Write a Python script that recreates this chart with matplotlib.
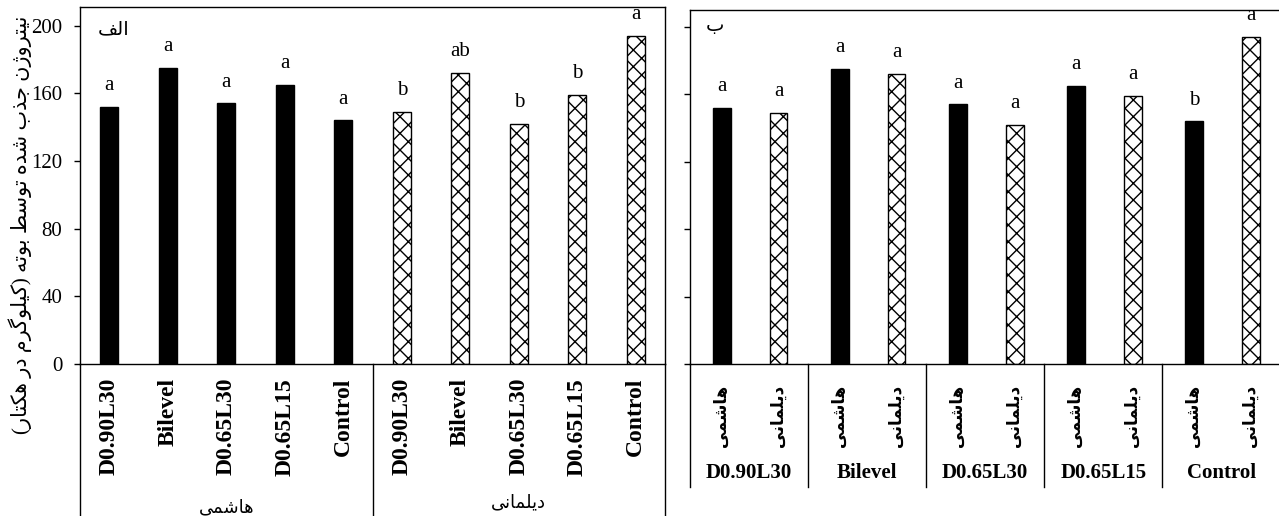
import numpy as np
import matplotlib
matplotlib.use("Agg")
import matplotlib.pyplot as plt

# treatments and cultivars
treatments = ["D0.90L30", "Bilevel", "D0.65L30", "D0.65L15", "Control"]
cultivars = ["هاشمی", "دیلمانی"]

# N uptake (kg/ha)
hashemi = [152, 175, 154, 165, 144]
dilmani = [149, 172, 142, 159, 194]

# mean comparison letters
left_hashemi_letters = ["a", "a", "a", "a", "a"]
left_dilmani_letters = ["b", "ab", "b", "b", "a"]
right_hashemi_letters = ["a", "a", "a", "a", "b"]
right_dilmani_letters = ["a", "a", "a", "a", "a"]

y_ticks = [0, 40, 80, 120, 160, 200]
y_label = "نیتروژن جذب شده توسط بوته (کیلوگرم در هکتار)"
panel_tags = ["الف", "ب"]

# ---- tiny persian shaper (matplotlib has no arabic shaping / bidi) ----
# letter: (isolated, final, initial, medial); None = does not join to the left
FORMS = {
    "ا": ("\uFE8D", "\uFE8E", None, None),
    "ب": ("\uFE8F", "\uFE90", "\uFE91", "\uFE92"),
    "ت": ("\uFE95", "\uFE96", "\uFE97", "\uFE98"),
    "ج": ("\uFE9D", "\uFE9E", "\uFE9F", "\uFEA0"),
    "د": ("\uFEA9", "\uFEAA", None, None),
    "ذ": ("\uFEAB", "\uFEAC", None, None),
    "ر": ("\uFEAD", "\uFEAE", None, None),
    "ژ": ("\uFB8A", "\uFB8B", None, None),
    "س": ("\uFEB1", "\uFEB2", "\uFEB3", "\uFEB4"),
    "ش": ("\uFEB5", "\uFEB6", "\uFEB7", "\uFEB8"),
    "ط": ("\uFEC1", "\uFEC2", "\uFEC3", "\uFEC4"),
    "ف": ("\uFED1", "\uFED2", "\uFED3", "\uFED4"),
    "ک": ("\uFB8E", "\uFB8F", "\uFB90", "\uFB91"),
    "گ": ("\uFB92", "\uFB93", "\uFB94", "\uFB95"),
    "ل": ("\uFEDD", "\uFEDE", "\uFEDF", "\uFEE0"),
    "م": ("\uFEE1", "\uFEE2", "\uFEE3", "\uFEE4"),
    "ن": ("\uFEE5", "\uFEE6", "\uFEE7", "\uFEE8"),
    "ه": ("\uFEE9", "\uFEEA", "\uFEEB", "\uFEEC"),
    "و": ("\uFEED", "\uFEEE", None, None),
    "ی": ("\uFBFC", "\uFBFD", "\uFBFE", "\uFBFF"),
}


def fa(text):
    out = []
    for i, ch in enumerate(text):
        if ch not in FORMS:
            out.append(ch)
            continue
        prev = text[i - 1] if i > 0 else ""
        nxt = text[i + 1] if i + 1 < len(text) else ""
        jp = prev in FORMS and FORMS[prev][2] is not None
        jn = FORMS[ch][2] is not None and nxt in FORMS
        iso, fin, ini, med = FORMS[ch]
        if jp and jn:
            out.append(med)
        elif jp:
            out.append(fin)
        elif jn:
            out.append(ini)
        else:
            out.append(iso)
    return "".join(out)[::-1].translate(str.maketrans("()", ")("))


plt.rcParams["font.family"] = ["Liberation Serif", "DejaVu Sans"]
plt.rcParams["hatch.linewidth"] = 1.0

W, H = 1279, 516
fig = plt.figure(figsize=(W / 100, H / 100), dpi=100)


def px_axes(l, t, r, b):
    return fig.add_axes([l / W, 1 - b / H, (r - l) / W, (b - t) / H])


ax1 = px_axes(80, 7, 665, 364)
ax2 = px_axes(690, 10, 1285, 364)

# ---------------- left panel ----------------
bw = 0.31
xh = np.arange(5)
xd = np.arange(5, 10)
ax1.bar(xh, hashemi, width=bw, color="black", edgecolor="black", lw=1)
ax1.bar(xd, dilmani, width=bw, color="white", edgecolor="black", hatch="xx", lw=1)
for x, v, s in zip(xh, hashemi, left_hashemi_letters):
    ax1.annotate(s, (x, v), xytext=(0, 12), textcoords="offset points",
                 ha="center", va="baseline", fontsize=15)
for x, v, s in zip(xd, dilmani, left_dilmani_letters):
    ax1.annotate(s, (x, v), xytext=(0, 12), textcoords="offset points",
                 ha="center", va="baseline", fontsize=15)

ax1.set_xlim(-0.5, 9.5)
ax1.set_ylim(0, 211)
ax1.set_yticks(y_ticks)
ax1.set_xticks(np.arange(10))
ax1.set_xticklabels(treatments * 2, rotation=90, fontweight="bold", fontsize=17)
ax1.tick_params(axis="x", length=0, pad=10)
ax1.tick_params(axis="y", direction="out", length=4.3, width=1, pad=8.5, labelsize=15)
for sp in ax1.spines.values():
    sp.set_linewidth(1)

tr1 = ax1.get_xaxis_transform()
for x in [-0.5, 4.5, 9.5]:
    ax1.plot([x, x], [0, -0.6], transform=tr1, clip_on=False, color="black", lw=1)
ax1.text(2, -0.417, fa(cultivars[0]), transform=tr1, ha="center", va="baseline", fontsize=13)
ax1.text(7, -0.403, fa(cultivars[1]), transform=tr1, ha="center", va="baseline", fontsize=13)
ax1.text(0.03, 0.936, fa(panel_tags[0]), transform=ax1.transAxes, ha="left", va="center", fontsize=14)

# ---------------- right panel ----------------
bw2 = 0.15
g = np.arange(5)
ax2.bar(g + 0.27, hashemi, width=bw2, color="black", edgecolor="black", lw=1)
ax2.bar(g + 0.75, dilmani, width=bw2, color="white", edgecolor="black", hatch="xx", lw=1)
for x, v, s in zip(g + 0.27, hashemi, right_hashemi_letters):
    ax2.annotate(s, (x, v), xytext=(0, 12), textcoords="offset points",
                 ha="center", va="baseline", fontsize=15)
for x, v, s in zip(g + 0.75, dilmani, right_dilmani_letters):
    ax2.annotate(s, (x, v), xytext=(0, 12), textcoords="offset points",
                 ha="center", va="baseline", fontsize=15, annotation_clip=False)

ax2.set_xlim(0, 5.04)
ax2.set_ylim(0, 210)
ax2.set_yticks(y_ticks)
ax2.set_yticklabels([])
pos = np.sort(np.concatenate([g + 0.27, g + 0.75]))
ax2.set_xticks(pos)
ax2.set_xticklabels([fa(c) for c in cultivars] * 5, rotation=90, fontsize=12, fontweight="bold")
ax2.tick_params(axis="x", length=0, pad=15)
ax2.tick_params(axis="y", direction="out", length=4.3, width=1)
ax2.spines["right"].set_visible(False)
for sp in ax2.spines.values():
    sp.set_linewidth(1)

tr2 = ax2.get_xaxis_transform()
for x in range(5):
    ax2.plot([x, x], [0, -0.347], transform=tr2, clip_on=False, color="black", lw=1)
for i, t in enumerate(treatments):
    ax2.text(i + 0.5, -0.308, t, transform=tr2, ha="center", va="center",
             fontsize=15, fontweight="bold")
ax2.text(0.042, 0.952, fa(panel_tags[1]), transform=ax2.transAxes, ha="center", va="center", fontsize=14)

fig.text(20 / W, 1 - 225 / H, fa(y_label), rotation=90, ha="center", va="center", fontsize=15)

fig.savefig("out.png", dpi=100)
